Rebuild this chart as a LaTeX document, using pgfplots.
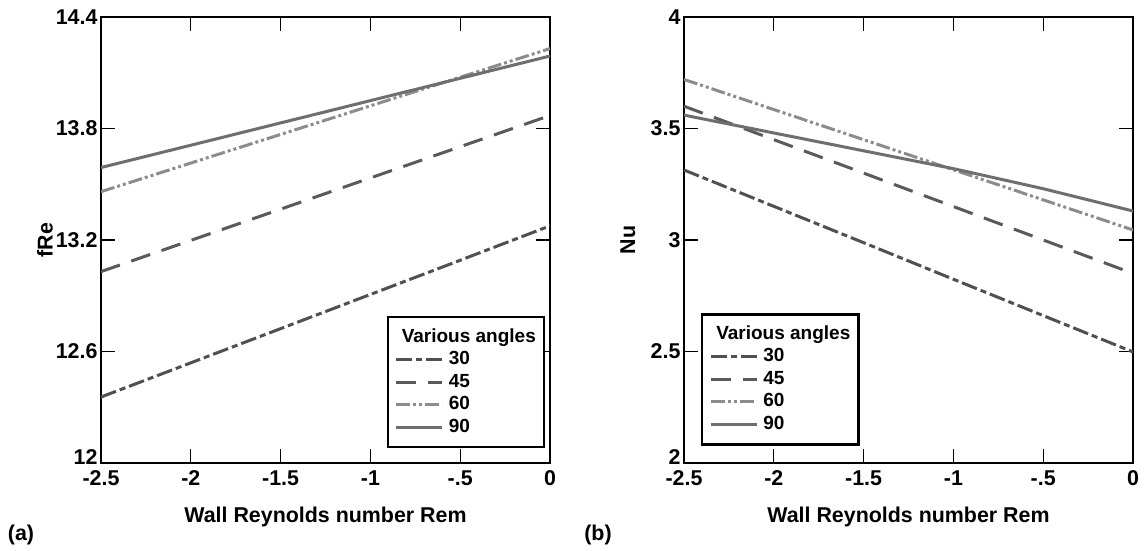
\documentclass[border=0pt]{standalone}
\usepackage{fontspec}
\setmainfont{Liberation Sans}
\usepackage{pgfplots}
\pgfplotsset{compat=1.18}
\definecolor{c30}{HTML}{505050}
\definecolor{c45}{HTML}{5A5A5A}
\definecolor{c60}{HTML}{8C8C8C}
\definecolor{c90}{HTML}{6E6E6E}
\pgfplotsset{
  mystyle/.style={
    scale only axis, width=449pt, height=446pt,
    xmin=-2.5, xmax=0,
    xtick={-2.5,-2,-1.5,-1,-0.5,0},
    xticklabels={-2.5,-2,-1.5,-1,-.5,0},
    tick align=inside,
    major tick length=14pt,
    tick style={line width=1.2pt, black},
    axis line style={line width=2.6pt},
    /pgf/number format/assume math mode=true,
    tick label style={font=\fontsize{21.4}{23}\selectfont\bfseries},
    label style={font=\fontsize{21.4}{23}\selectfont\bfseries},
    xticklabel style={yshift=-4pt},
    yticklabel style={xshift=0pt},
    xlabel={Wall Reynolds number Rem},
    xlabel style={at={(axis description cs:0.5,-0.121)}, anchor=center},
    ylabel style={at={(axis description cs:-0.125,0.5)}, anchor=center, rotate=0},
    legend cell align=left,
    legend style={font=\fontsize{19}{21}\selectfont\bfseries, draw=black, line width=2.4pt,
      inner xsep=7pt, inner ysep=10pt, row sep=2.5pt, column sep=4pt,
      nodes={inner sep=1pt, text height=14pt, text depth=4pt}},
    legend image code/.code={\draw[#1, line width=3pt] (0pt,0pt) -- (46pt,0pt);},
    s30/.style={c30, line width=3pt, dash pattern=on 16pt off 4pt on 6pt off 4pt},
    s45/.style={c45, line width=3pt, dash pattern=on 20pt off 12pt},
    s60/.style={c60, line width=3pt, dash pattern=on 14pt off 3pt on 3pt off 3pt on 3pt off 3pt},
    s90/.style={c90, line width=3pt},
  }
}
\begin{document}
\begin{tikzpicture}[x=1pt,y=1pt]
\path[use as bounding box] (0,0) rectangle (1147,550);
\begin{axis}[mystyle, at={(101pt,87pt)}, anchor=south west,
  ymin=12, ymax=14.4, ytick={12,12.6,13.2,13.8,14.4},
  yticklabels={\raisebox{11pt}{12},12.6,13.2,13.8,14.4},
  ylabel={fRe},
  legend style={at={(rel axis cs:0.989,0.3296)}, anchor=north east}]
\addlegendimage{empty legend}
\addlegendentry{\hspace*{-47pt}Various angles}
\addplot[s30] coordinates {(-2.5,12.355) (-2,12.539) (-1.5,12.723) (-1,12.907) (-0.5,13.091) (0,13.276)};
\addlegendentry{30}
\addplot[s45] coordinates {(-2.5,13.03) (-2,13.198) (-1.5,13.366) (-1,13.534) (-0.5,13.702) (0,13.87)};
\addlegendentry{45}
\addplot[s60] coordinates {(-2.5,13.46) (-2,13.614) (-1.5,13.768) (-1,13.922) (-0.5,14.076) (0,14.23)};
\addlegendentry{60}
\addplot[s90] coordinates {(-2.5,13.59) (-2,13.71) (-1.5,13.83) (-1,13.95) (-0.5,14.07) (0,14.19)};
\addlegendentry{90}
\end{axis}
\begin{axis}[mystyle, at={(684pt,87pt)}, anchor=south west,
  ymin=2, ymax=4, ytick={2,2.5,3,3.5,4},
  yticklabels={\raisebox{11pt}{2},2.5,3,3.5,4},
  ylabel={Nu},
  legend style={at={(rel axis cs:0.038,0.336)}, anchor=north west}]
\addlegendimage{empty legend}
\addlegendentry{\hspace*{-47pt}Various angles}
\addplot[s30] coordinates {(-2.5,3.314) (-2,3.151) (-1.5,2.988) (-1,2.824) (-0.5,2.661) (0,2.498)};
\addlegendentry{30}
\addplot[s45] coordinates {(-2.5,3.60) (-2,3.45) (-1.5,3.30) (-1,3.15) (-0.5,3.00) (0,2.85)};
\addlegendentry{45}
\addplot[s60] coordinates {(-2.5,3.72) (-2,3.585) (-1.5,3.45) (-1,3.315) (-0.5,3.18) (0,3.045)};
\addlegendentry{60}
\addplot[s90] coordinates {(-2.5,3.56) (-2,3.48) (-1.5,3.40) (-1,3.32) (-0.5,3.23) (0,3.13)};
\addlegendentry{90}
\end{axis}
\node[font=\fontsize{21.4}{23}\selectfont\bfseries] at (21,15) {(a)};
\node[font=\fontsize{21.4}{23}\selectfont\bfseries] at (598,15) {(b)};
\end{tikzpicture}
\end{document}
